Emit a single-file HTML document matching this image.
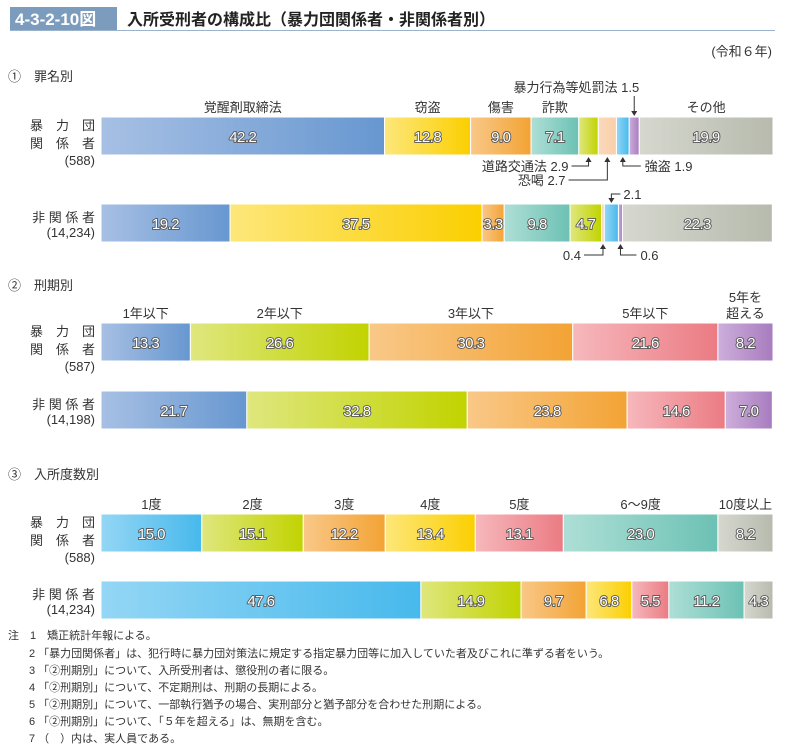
<!DOCTYPE html>
<html><head><meta charset="utf-8">
<style>
body{margin:0;background:#fff;}
svg{display:block;font-family:"Liberation Sans","Noto Sans CJK JP",sans-serif;}
.v{fill:#fff;font-size:15px;text-anchor:middle;stroke:#555;stroke-width:1.8px;paint-order:stroke;letter-spacing:-0.5px}
.c{fill:#333;font-size:13px;text-anchor:middle}
.r{fill:#333;font-size:13px}
.n{fill:#333;font-size:11px}
</style></head>
<body>
<svg id="chart" width="787" height="750" viewBox="0 0 787 750">
<defs id="defs"></defs>
<rect x="10" y="7" width="107" height="23" fill="#7c9cbd"/>
<text x="15" y="25" fill="#fff" font-size="17" font-weight="bold">4-3-2-10図</text>
<text x="127" y="25" fill="#222" font-size="16" font-weight="bold">入所受刑者の構成比（暴力団関係者・非関係者別）</text>
<line x1="10" y1="30.5" x2="775" y2="30.5" stroke="#9bb3cc" stroke-width="1"/>
<text x="772" y="56" class="r" text-anchor="end" font-size="12">(令和６年)</text>
<text x="8" y="81" class="r" font-size="15">①　罪名別</text>
<text x="8" y="290" class="r" font-size="15">②　刑期別</text>
<text x="8" y="479" class="r" font-size="15">③　入所度数別</text>
<g id="bars"></g>
<g id="notes">
<text class="n" x="8" y="639">注　1　矯正統計年報による。</text>
<text class="n" x="29" y="657">2 「暴力団関係者」は、犯行時に暴力団対策法に規定する指定暴力団等に加入していた者及びこれに準ずる者をいう。</text>
<text class="n" x="29" y="674">3 「②刑期別」について、入所受刑者は、懲役刑の者に限る。</text>
<text class="n" x="29" y="691">4 「②刑期別」について、不定期刑は、刑期の長期による。</text>
<text class="n" x="29" y="708">5 「②刑期別」について、一部執行猶予の場合、実刑部分と猶予部分を合わせた刑期による。</text>
<text class="n" x="29" y="725">6 「②刑期別」について、「５年を超える」は、無期を含む。</text>
<text class="n" x="29" y="742">7 （　）内は、実人員である。</text>
</g>
</svg>
<script>
const crimeCats=["覚醒剤取締法","窃盗","傷害","詐欺","道路交通法","恐喝","強盗","暴力行為等処罰法","その他"];
const crimeGang=[42.2,12.8,9.0,7.1,2.9,2.7,1.9,1.5,19.9];
const crimeNon=[19.2,37.5,3.3,9.8,4.7,0.4,2.1,0.6,22.3];
const termCats=["1年以下","2年以下","3年以下","5年以下","5年を超える"];
const termGang=[13.3,26.6,30.3,21.6,8.2];
const termNon=[21.7,32.8,23.8,14.6,7.0];
const countCats=["1度","2度","3度","4度","5度","6～9度","10度以上"];
const countGang=[15.0,15.1,12.2,13.4,13.1,23.0,8.2];
const countNon=[47.6,14.9,9.7,6.8,5.5,11.2,4.3];

const NS="http://www.w3.org/2000/svg";
const X0=101,W=672,BH=38;
const xs=v=>v/100*W;
const pal={blue:["#a7c0e4","#6797d0"],yellow:["#fde77a","#fbcf00"],orange:["#f9c888","#f3a334"],teal:["#aedfd6","#6cc1b4"],lime:["#dfe77e","#c1d300"],peach:["#fbd9bb","#f9cfa9"],lblue:["#94d6f5","#47b9ec"],purple:["#cdaedb","#a87cbf"],gray:["#d6d8cf","#b7baad"],pink:["#f6b8bc","#eb7b83"]};
const defs=document.getElementById('defs');
for(const k in pal){const g=document.createElementNS(NS,'linearGradient');g.setAttribute('id','g-'+k);
 g.innerHTML=`<stop offset="0" stop-color="${pal[k][0]}"/><stop offset="1" stop-color="${pal[k][1]}"/>`;defs.appendChild(g);}
const gB=document.getElementById('bars');
function el(t,a,txt){const e=document.createElementNS(NS,t);for(const k in a)e.setAttribute(k,a[k]);if(txt!=null)e.textContent=txt;gB.appendChild(e);return e;}
function bar(vals,colors,y,name,showVals){
 let cx=X0;const centers=[];
 vals.forEach((v,i)=>{const w=xs(v);
  const r=el('rect',{x:cx,y:y,width:w,height:BH,fill:'url(#g-'+colors[i]+')',stroke:'#fff','stroke-width':1});
  
  
  centers.push(cx+w/2);
  if(showVals[i]){const t=el('text',{x:cx+w/2,y:y+25,class:'v'},v.toFixed(1));
   
   }
  cx+=w;});
 return centers;
}
function gangLabel(y,n,name){
 [["暴　力　団",y+13],["関　係　者",y+31]].forEach(([s,yy])=>{const t=el('text',{x:95,y:yy,class:'r','text-anchor':'end','font-size':14},s);
  });
 const t=el('text',{x:95,y:y+48,class:'r','text-anchor':'end','font-size':11},n);
 
}
function nonLabel(y,n,name){
 const t=el('text',{x:95,y:y+18,class:'r','text-anchor':'end','font-size':14},'非 関 係 者');
 
 const t2=el('text',{x:95,y:y+33,class:'r','text-anchor':'end','font-size':11},n);
 
}
function catLabels(cats,centers,y,idx,name){idx.forEach(i=>{const t=el('text',{x:centers[i],y:y,class:'c'},cats[i]);
 });}
function line(pts){el('polyline',{points:pts.map(p=>p.join(',')).join(' '),fill:'none',stroke:'#333','stroke-width':1});}
function arrow(x,y,dir){el('polygon',{points:dir>0?`${x-3},${y-5} ${x+3},${y-5} ${x},${y}`:`${x-3},${y+5} ${x+3},${y+5} ${x},${y}`,fill:'#333'});}
function ann(txt,x,y,anchor,name){const t=el('text',{x:x,y:y,class:'r','text-anchor':anchor||'start'},txt);
 }

// Section 1
const c1=["blue","yellow","orange","teal","lime","peach","lblue","purple","gray"];
const cg=bar(crimeGang,c1,117,'crime-gang-bar',[1,1,1,1,0,0,0,0,1]);
const cn=bar(crimeNon,c1,204,'crime-non-bar',[1,1,1,1,1,0,0,0,1]);
gangLabel(117,'(588)','crime-gang-label');nonLabel(204,'(14,234)','crime-non-label');
catLabels(crimeCats,cg,112,[0,1,2,3,8],'crime');
ann('暴力行為等処罰法 '+crimeGang[7].toFixed(1),cg[7]+5,92,'end','ann-violence');
line([[cg[7],96],[cg[7],112]]);arrow(cg[7],116,1);
ann('道路交通法 '+crimeGang[4].toFixed(1),cg[4]-20,171,'end','ann-traffic');
line([[cg[4]-17,166],[cg[4],166],[cg[4],161]]);arrow(cg[4],157,-1);
ann('恐喝 '+crimeGang[5].toFixed(1),cg[4]-23,185,'end','ann-extortion');
line([[cg[4]-20,180],[cg[5],180],[cg[5],161]]);arrow(cg[5],157,-1);
ann('強盗 '+crimeGang[6].toFixed(1),cg[6]+22,171,'start','ann-robbery');
line([[cg[6],161],[cg[6],166],[cg[6]+18,166]]);arrow(cg[6],157,-1);
ann(crimeNon[6].toFixed(1),cn[6]+12,199,'start','ann-non-robbery');
line([[cn[6]+9,194],[cn[6],194],[cn[6],198]]);arrow(cn[6],203,1);
ann(crimeNon[5].toFixed(1),cn[5]-22,260,'end','ann-non-extortion');
line([[cn[5]-19,255],[cn[5],255],[cn[5],248]]);arrow(cn[5],244,-1);
ann(crimeNon[7].toFixed(1),cn[7]+20,260,'start','ann-non-violence');
line([[cn[7],248],[cn[7],255],[cn[7]+16,255]]);arrow(cn[7],244,-1);

// Section 2
const c2=["blue","lime","orange","pink","purple"];
const tg=bar(termGang,c2,323,'term-gang-bar',[1,1,1,1,1]);
bar(termNon,c2,391,'term-non-bar',[1,1,1,1,1]);
gangLabel(323,'(587)','term-gang-label');nonLabel(391,'(14,198)','term-non-label');
catLabels(termCats,tg,318,[0,1,2,3],'term');
ann('5年を',tg[4],302,'middle','term-category-4');
ann('超える',tg[4],318,'middle','term-category-4b');

// Section 3
const c3=["lblue","lime","orange","yellow","pink","teal","gray"];
const ng=bar(countGang,c3,514,'count-gang-bar',[1,1,1,1,1,1,1]);
bar(countNon,c3,581,'count-non-bar',[1,1,1,1,1,1,1]);
gangLabel(514,'(588)','count-gang-label');nonLabel(581,'(14,234)','count-non-label');
catLabels(countCats,ng,509,[0,1,2,3,4,5,6],'count');
</script>
</body></html>
